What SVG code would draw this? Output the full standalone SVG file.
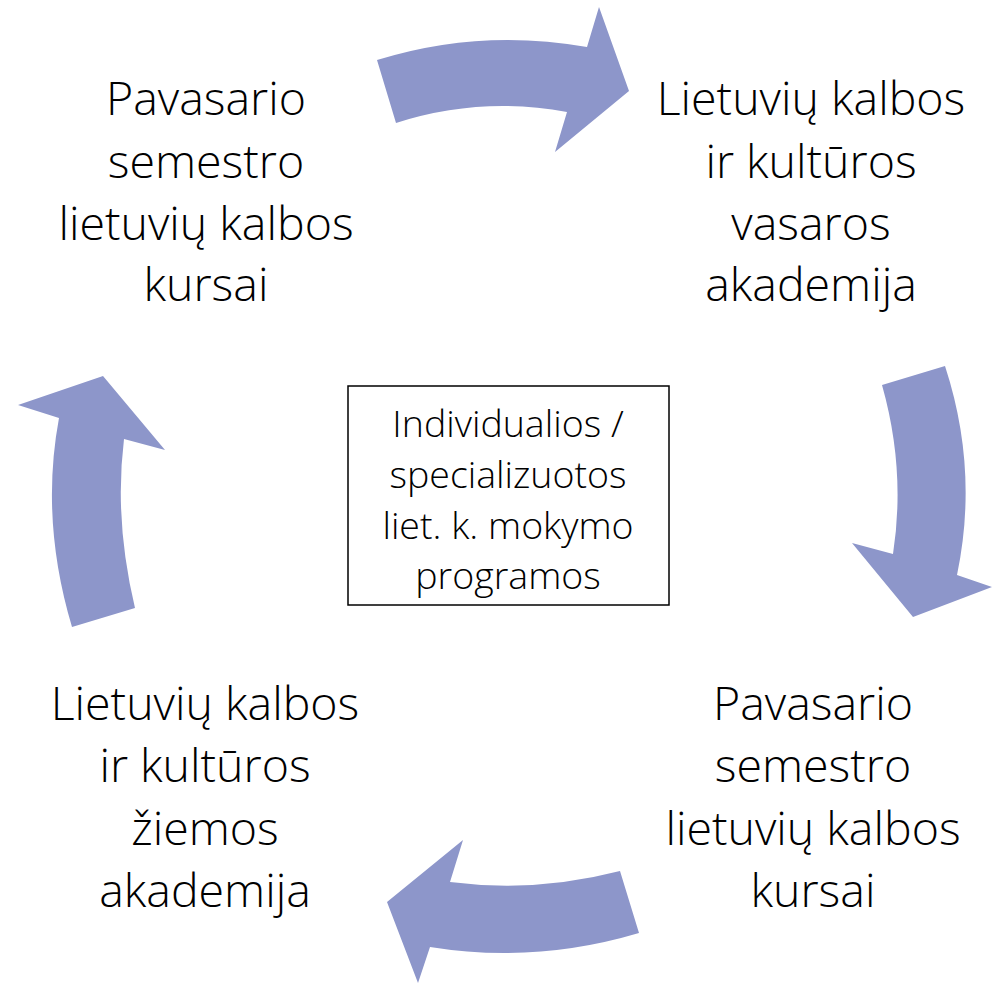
<svg xmlns="http://www.w3.org/2000/svg" width="992" height="984" viewBox="0 0 992 984">
<style>
.arr{fill:#8d96ca;stroke:none}
.big{font-family:"Open Sans","Noto Sans","Liberation Sans",sans-serif;font-weight:300;font-size:46.5px;fill:#000;text-anchor:middle}
.small{font-family:"Open Sans","Noto Sans","Liberation Sans",sans-serif;font-weight:300;font-size:37.5px;fill:#000;text-anchor:middle}
.box{fill:#fff;stroke:#000;stroke-width:1.5}
</style>
<rect width="992" height="984" fill="#fff"/>
<g id="connectors">
<path class="arr" d="M377,60 Q480,28 587,47 L599,7 L629,91 L555,152 L567,112 Q480,96 396,123 Z"/>
<path class="arr" d="M882,385 L945,366 Q979,470 957,575 L992,587 L913,617 L852,543 L893,554 Q906,470 882,385 Z"/>
<path class="arr" d="M620,871 L639,933 Q535,964 430,947 L418,983 L387,902 L463,840 L450,882 Q535,893 620,871 Z"/>
<path class="arr" d="M72,627 L135,608 Q114,520 124,439 L165,450 L103,376 L18,405 L59,418 Q40,520 72,627 Z"/>
</g>
<g id="node-top-left">
<text class="big" x="206" y="115">Pavasario</text>
<text class="big" x="206" y="178">semestro</text>
<text class="big" x="206" y="240">lietuvių kalbos</text>
<text class="big" x="206" y="301">kursai</text>
</g>
<g id="node-top-right">
<text class="big" x="811" y="115">Lietuvių kalbos</text>
<text class="big" x="811" y="178">ir kultūros</text>
<text class="big" x="811" y="240">vasaros</text>
<text class="big" x="811" y="301">akademija</text>
</g>
<g id="node-bottom-right">
<text class="big" x="813" y="720">Pavasario</text>
<text class="big" x="813" y="782">semestro</text>
<text class="big" x="813" y="845">lietuvių kalbos</text>
<text class="big" x="813" y="907">kursai</text>
</g>
<g id="node-bottom-left">
<text class="big" x="205" y="720">Lietuvių kalbos</text>
<text class="big" x="205" y="782">ir kultūros</text>
<text class="big" x="205" y="845">žiemos</text>
<text class="big" x="205" y="907">akademija</text>
</g>
<g id="node-center">
<rect class="box" x="348" y="386" width="321" height="219"/>
<text class="small" x="508" y="437">Individualios /</text>
<text class="small" x="508" y="488">specializuotos</text>
<text class="small" x="508" y="539">liet. k. mokymo</text>
<text class="small" x="508" y="589">programos</text>
</g>
</svg>
